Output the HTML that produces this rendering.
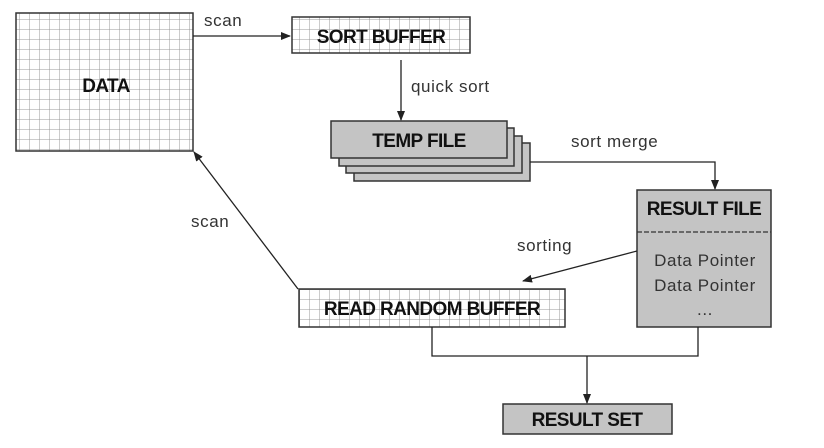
<!DOCTYPE html>
<html><head><meta charset="utf-8"><style>
html,body{margin:0;padding:0;background:#fff;}
svg{display:block;}
text{font-family:"Liberation Sans","DejaVu Sans",sans-serif;}
.b{font-weight:bold;font-size:19px;fill:#111;letter-spacing:-0.6px;}
.l{font-size:17px;fill:#333;letter-spacing:0.6px;}
</style></head><body>
<svg width="824" height="448" viewBox="0 0 824 448" xmlns="http://www.w3.org/2000/svg">
<defs>
<pattern id="g" width="10" height="10" patternUnits="userSpaceOnUse">
<rect width="10" height="10" fill="#fff"/>
<path d="M10 0V10M0 10H10" stroke="#999" stroke-width="1" fill="none"/>
</pattern>
<marker id="a" markerWidth="10" markerHeight="8" refX="9" refY="4" orient="auto" markerUnits="userSpaceOnUse">
<path d="M0 0L10 4L0 8z" fill="#222"/>
</marker>
</defs>
<g stroke="#333" stroke-width="1.5">
<rect x="16" y="13" width="177" height="138" fill="url(#g)"/>
<rect x="292" y="17" width="178" height="36" fill="url(#g)"/>
<rect x="354" y="143" width="176" height="38" fill="#c4c4c4"/>
<rect x="346" y="136" width="176" height="37" fill="#c4c4c4"/>
<rect x="339" y="128" width="175" height="38" fill="#c4c4c4"/>
<rect x="331" y="121" width="176" height="37" fill="#c4c4c4"/>
<rect x="637" y="190" width="134" height="137" fill="#c4c4c4"/>
<rect x="299" y="289" width="266" height="38" fill="url(#g)"/>
<rect x="503" y="404" width="169" height="30" fill="#c4c4c4"/>
</g>
<line x1="637" y1="232" x2="771" y2="232" stroke="#333" stroke-width="1.2" stroke-dasharray="5,2"/>
<g stroke="#222" stroke-width="1.3" fill="none">
<line x1="193" y1="36" x2="290" y2="36" marker-end="url(#a)"/>
<line x1="401" y1="60" x2="401" y2="120" marker-end="url(#a)"/>
<polyline points="530,162 715,162 715,189" marker-end="url(#a)"/>
<line x1="637" y1="251" x2="523" y2="281" marker-end="url(#a)"/>
<line x1="298" y1="289" x2="194" y2="152" marker-end="url(#a)"/>
<polyline points="432,327 432,356 698,356 698,327"/>
<line x1="587" y1="356" x2="587" y2="403" marker-end="url(#a)"/>
</g>
<text class="b" x="106" y="92" text-anchor="middle" font-size="22">DATA</text>
<text class="b" x="381" y="43" text-anchor="middle">SORT BUFFER</text>
<text class="b" x="419" y="147" text-anchor="middle">TEMP FILE</text>
<text class="b" x="704" y="215" text-anchor="middle">RESULT FILE</text>
<text class="b" x="432" y="315" text-anchor="middle">READ RANDOM BUFFER</text>
<text class="b" x="587" y="426" text-anchor="middle">RESULT SET</text>
<text class="l" x="705" y="266" text-anchor="middle" font-size="18">Data Pointer</text>
<text class="l" x="705" y="291" text-anchor="middle" font-size="18">Data Pointer</text>
<text class="l" x="705" y="315" text-anchor="middle" font-size="12">...</text>
<text class="l" x="204" y="26">scan</text>
<text class="l" x="411" y="92">quick sort</text>
<text class="l" x="571" y="147">sort merge</text>
<text class="l" x="517" y="251">sorting</text>
<text class="l" x="191" y="227">scan</text>
</svg>
</body></html>
